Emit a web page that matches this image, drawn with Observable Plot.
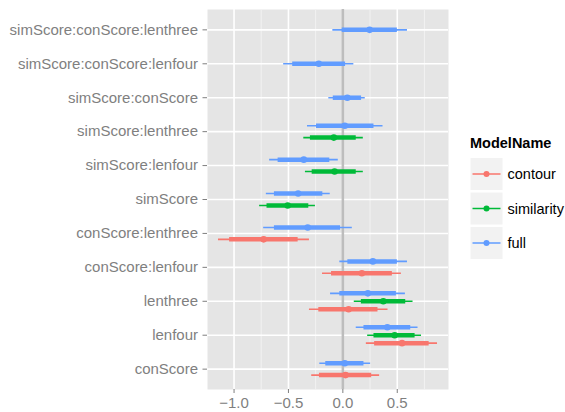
<!DOCTYPE html>
<html><head><meta charset="utf-8">
<script src="https://cdn.jsdelivr.net/npm/d3@7"></script>
<script src="https://cdn.jsdelivr.net/npm/@observablehq/plot@0.6"></script>
<style>
body{margin:0;background:#fff;}
#wrap{position:relative;width:565px;height:412px;font-family:"Liberation Sans",Arial,Helvetica,sans-serif;}
#legend{position:absolute;left:0;top:0;pointer-events:none;}
</style></head><body><div id="wrap"></div>
<script>
// categories, bottom to top
const terms = ["conScore","lenfour","lenthree","conScore:lenfour","conScore:lenthree","simScore",
  "simScore:lenfour","simScore:lenthree","simScore:conScore","simScore:conScore:lenfour","simScore:conScore:lenthree"];
const seriesNames = ["contour","similarity","full"];
const seriesColors = ["#F8766D","#00BA38","#619CFF"];
// [term, outerLo, innerLo, estimate, innerHi, outerHi]
const contour = [
  ["conScore", -0.286, -0.215, 0.025, 0.265, 0.338],
  ["lenfour", 0.216, 0.292, 0.544, 0.793, 0.870],
  ["lenthree", -0.307, -0.221, 0.053, 0.323, 0.415],
  ["conScore:lenfour", -0.187, -0.104, 0.175, 0.455, 0.538],
  ["conScore:lenthree", -1.143, -1.041, -0.728, -0.411, -0.307]
];
const similarity = [
  ["lenfour", 0.228, 0.286, 0.476, 0.664, 0.723],
  ["lenthree", 0.105, 0.170, 0.372, 0.578, 0.645],
  ["simScore", -0.765, -0.697, -0.507, -0.313, -0.252],
  ["simScore:lenfour", -0.344, -0.282, -0.076, 0.123, 0.188],
  ["simScore:lenthree", -0.359, -0.298, -0.083, 0.123, 0.188]
];
const full = [
  ["conScore", -0.212, -0.157, 0.018, 0.194, 0.255],
  ["lenfour", 0.123, 0.194, 0.409, 0.624, 0.691],
  ["lenthree", -0.113, -0.028, 0.230, 0.492, 0.575],
  ["conScore:lenfour", -0.028, 0.046, 0.276, 0.501, 0.594],
  ["conScore:lenthree", -0.728, -0.629, -0.323, -0.021, 0.087],
  ["simScore", -0.703, -0.629, -0.411, -0.184, -0.116],
  ["simScore:lenfour", -0.673, -0.595, -0.359, -0.120, -0.042],
  ["simScore:lenthree", -0.325, -0.242, 0.018, 0.286, 0.369],
  ["simScore:conScore", -0.129, -0.088, 0.041, 0.172, 0.206],
  ["simScore:conScore:lenfour", -0.544, -0.461, -0.221, 0.025, 0.101],
  ["simScore:conScore:lenthree", -0.092, -0.006, 0.246, 0.501, 0.594]
];
const xTicks = [-1, -0.5, 0, 0.5];
const xMinor = [-0.75, -0.25, 0.25, 0.75];
const dodgeWidth = 0.7;

const rows = [];
[contour, similarity, full].forEach((arr, s) => arr.forEach(r => rows.push({
  series: seriesNames[s], term: r[0], olo: r[1], ilo: r[2], est: r[3], ihi: r[4], ohi: r[5]
})));
for (const [t, g] of d3.group(rows, d => d.term)) {
  g.sort((a, b) => seriesNames.indexOf(a.series) - seriesNames.indexOf(b.series));
  g.forEach((d, i) => d.y = terms.indexOf(t) + 1 + dodgeWidth * ((i + 0.5) / g.length - 0.5));
}
const yTicks = terms.map((t, i) => i + 1);

const font = '"Liberation Sans",Arial,Helvetica,sans-serif';
const chart = Plot.plot({
  width: 565, height: 412,
  marginLeft: 207, marginRight: 117, marginTop: 9, marginBottom: 23,
  x: {domain: [-1.244, 0.971]},
  y: {domain: [0.4, terms.length + 0.6]},
  color: {domain: seriesNames, range: seriesColors},
  style: {fontFamily: font, fontSize: "15px", background: "white", overflow: "visible"},
  marks: [
    Plot.frame({fill: "#E5E5E5", stroke: "none"}),
    Plot.ruleX(xMinor, {stroke: "#F2F2F2", strokeWidth: 1}),
    Plot.ruleX(xTicks, {stroke: "white", strokeWidth: 1.6}),
    Plot.ruleY(yTicks, {stroke: "white", strokeWidth: 1.6}),
    Plot.ruleX([0], {stroke: "#BDBDBD", strokeWidth: 2.5}),
    Plot.ruleY(rows, {y: "y", x1: "olo", x2: "ohi", stroke: "series", strokeWidth: 1.6}),
    Plot.ruleY(rows, {y: "y", x1: "ilo", x2: "ihi", stroke: "series", strokeWidth: 4.5}),
    Plot.dot(rows, {x: "est", y: "y", fill: "series", r: 3.3}),
    Plot.axisX({ticks: xTicks, tickFormat: d3.format(".1f"), tickSize: 4, tickPadding: 4, color: "#7F7F7F", label: null}),
    Plot.axisY({ticks: yTicks, tickFormat: i => terms[i - 1], tickSize: 4.5, tickPadding: 5, color: "#7F7F7F", label: null})
  ]
});
document.getElementById("wrap").appendChild(chart);

// legend
const leg = d3.select("#wrap").append("svg").attr("id", "legend")
  .attr("width", 565).attr("height", 412).style("font-family", font);
leg.append("text").attr("x", 470).attr("y", 148).attr("font-weight", "bold")
  .attr("font-size", "14.5px").attr("fill", "#000").text("ModelName");
seriesNames.forEach((s, i) => {
  const y0 = 157.5 + i * 34.5;
  const g = leg.append("g");
  g.append("rect").attr("x", 470).attr("y", y0).attr("width", 33).attr("height", 33)
    .attr("fill", "#F2F2F2").attr("stroke", "white").attr("stroke-width", 1);
  g.append("line").attr("x1", 472.5).attr("x2", 500.5).attr("y1", y0 + 16.5).attr("y2", y0 + 16.5)
    .attr("stroke", seriesColors[i]).attr("stroke-width", 1.5);
  g.append("circle").attr("cx", 486.5).attr("cy", y0 + 16.5).attr("r", 3).attr("fill", seriesColors[i]);
  g.append("text").attr("x", 507.5).attr("y", y0 + 16.5).attr("dy", "0.35em")
    .attr("font-size", "14.5px").attr("fill", "#000").text(s);
});
</script></body></html>
